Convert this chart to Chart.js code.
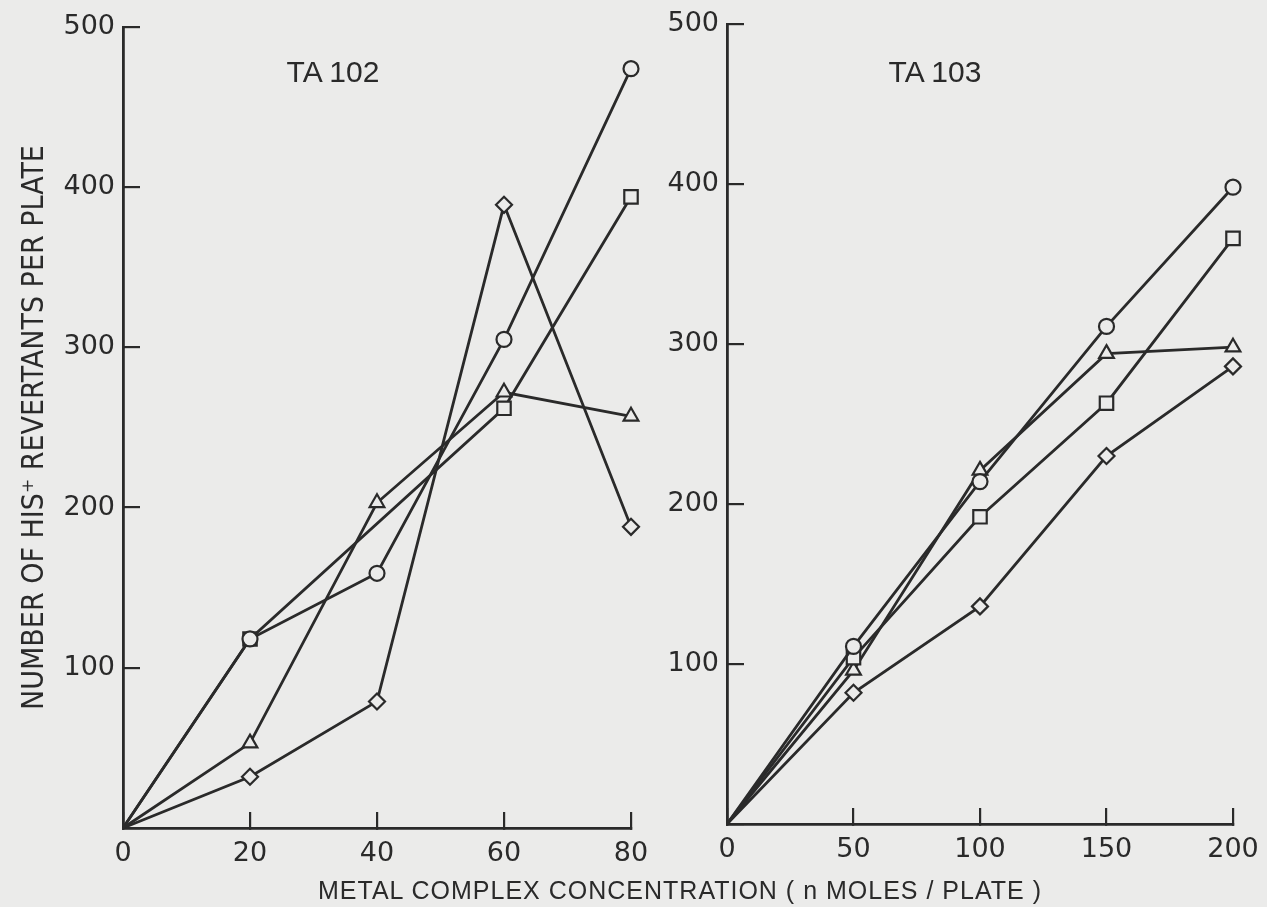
<!DOCTYPE html>
<html>
<head>
<meta charset="utf-8">
<script src="https://cdn.jsdelivr.net/npm/chart.js@4"></script>
<style>
body { margin: 0; background: #ebebea; width: 1267px; height: 907px; overflow: hidden; position: relative; font-family: 'Liberation Sans', sans-serif; color: #2a2a2a; }
#left { position: absolute; left: 0; top: 0; }
#right { position: absolute; left: 660px; top: 0; }
.tag { position: absolute; font-size: 30px; width: 200px; text-align: center; }
#xtitle { position: absolute; left: 280px; width: 800px; top: 876px; text-align: center; font-size: 25px; letter-spacing: 1px; }
</style>
</head>
<body>
<canvas id="left" width="660" height="907"></canvas>
<canvas id="right" width="607" height="907"></canvas>
<div class="tag" style="left:233px;top:55px">TA 102</div>
<div class="tag" style="left:835px;top:55px">TA 103</div>
<div id="xtitle">METAL COMPLEX CONCENTRATION ( n MOLES / PLATE )</div>
<script>
var ink = '#2a2a2a';
var paper = '#ebebea';

// TA 102, dose in n moles / plate
var dose102 = [0, 20, 40, 60, 80];
var circle102 = [0, 118, 159, 305, 474];
var square102 = [0, 118, null, 262, 394];
var triangle102 = [0, 53, 203, 272, 257];
var diamond102 = [0, 32, 79, 389, 188];

// TA 103
var dose103 = [0, 50, 100, 150, 200];
var circle103 = [0, 111, 214, 311, 398];
var square103 = [0, 104, 192, 263, 366];
var triangle103 = [0, 96, 221, 294, 298];
var diamond103 = [0, 82, 136, 230, 286];

var yTitle = 'NUMBER OF HIS\u207A REVERTANTS PER PLATE';

function pts(xs, ys) {
  return xs.map(function (x, i) { return { x: x, y: ys[i] }; });
}

function series(xs, ys, shape, r) {
  return {
    data: pts(xs, ys),
    showLine: true,
    spanGaps: true,
    clip: false,
    borderColor: ink,
    borderWidth: 2.8,
    pointStyle: shape,
    pointRadius: function (c) { return c.raw && c.raw.x === 0 ? 0 : r; },
    pointBackgroundColor: paper,
    pointBorderColor: ink,
    pointBorderWidth: 2.2
  };
}

// no extra room for labels hanging over the ends of the axes
function noOverhang(s) {
  s.paddingLeft = 0; s.paddingRight = 0; s.paddingTop = 0; s.paddingBottom = 0;
}

function panel(id, xs, sets, xmax, xstep, yWidth, xHeight, pad, showTitle) {
  var tickFont = { family: "'DejaVu Sans', sans-serif", size: 27 };
  return new Chart(document.getElementById(id), {
    type: 'scatter',
    data: {
      datasets: [
        series(xs, sets[0], 'circle', 7.5),
        series(xs, sets[1], 'rect', 9.5),
        series(xs, sets[2], 'triangle', 8.5),
        series(xs, sets[3], 'rectRot', 8)
      ]
    },
    options: {
      responsive: false,
      animation: false,
      events: [],
      layout: { padding: pad },
      plugins: { legend: { display: false }, tooltip: { enabled: false } },
      scales: {
        x: {
          type: 'linear', min: 0, max: xmax,
          ticks: { stepSize: xstep, color: ink, font: tickFont, padding: 26, maxRotation: 0 },
          grid: { drawOnChartArea: false, tickLength: -16, color: ink, lineWidth: 2.2 },
          border: { color: ink, width: 2.8 },
          afterFit: function (s) { s.height = xHeight; noOverhang(s); }
        },
        y: {
          type: 'linear', min: 0, max: 500,
          ticks: {
            stepSize: 100, color: ink, font: tickFont, padding: 25,
            callback: function (v) { return v === 0 ? '' : v; }
          },
          grid: { drawOnChartArea: false, tickLength: -17, color: ink, lineWidth: 2.2 },
          border: { color: ink, width: 2.8 },
          title: {
            display: showTitle, text: yTitle, color: ink,
            font: { family: "'Liberation Sans Narrow', 'DejaVu Sans Condensed', sans-serif", size: 30 },
            padding: { top: 17, bottom: 0 }
          },
          afterFit: function (s) { s.width = yWidth; noOverhang(s); }
        }
      }
    }
  });
}

panel('left', dose102, [circle102, square102, triangle102, diamond102], 80, 20, 123, 79,
  { top: 27, right: 29, left: 0, bottom: 0 }, true);
panel('right', dose103, [circle103, square103, triangle103, diamond103], 200, 50, 67, 83,
  { top: 24, right: 34, left: 0, bottom: 0 }, false);
</script>
</body>
</html>
